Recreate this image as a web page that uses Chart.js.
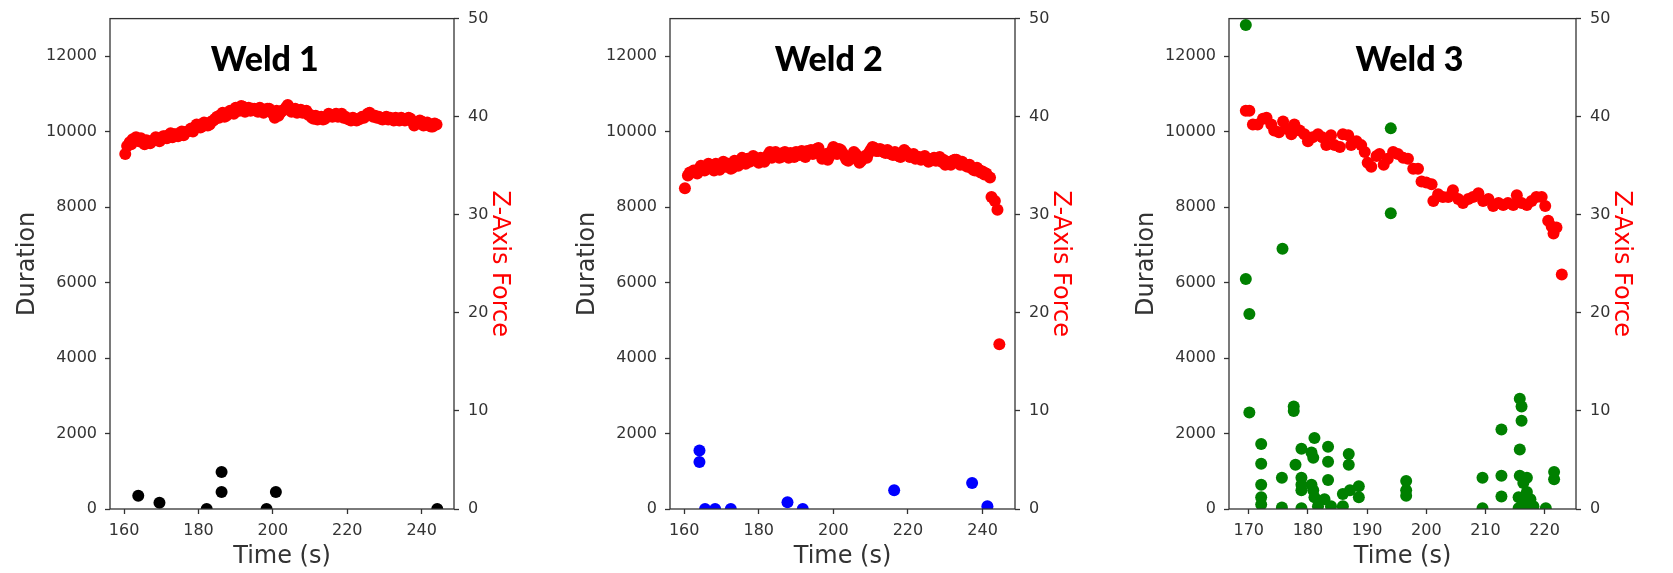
<!DOCTYPE html>
<html>
<head>
<meta charset="utf-8">
<title>Weld duration and Z-axis force</title>
<script src="https://cdn.jsdelivr.net/npm/chart.js@4.4.0/dist/chart.umd.min.js"></script>
<style>
  body { margin: 0; background: #fff; width: 1673px; height: 573px; position: relative; overflow: hidden; }
  .panel { position: absolute; top: 0; height: 573px; }
</style>
</head>
<body>
<div class="panel" style="left:0px;width:540px"><canvas id="weld1" width="540" height="573"></canvas></div>
<div class="panel" style="left:560px;width:541px"><canvas id="weld2" width="541" height="573"></canvas></div>
<div class="panel" style="left:1119px;width:543px"><canvas id="weld3" width="543" height="573"></canvas></div>
<script>
// Weld 1 -- force trace (right axis) and event durations (left axis)
const weld1ForceTime = [160.3, 160.8, 161.5, 162.3, 163.2, 164, 165, 166, 167, 168, 169, 170, 171, 172, 173, 174, 175, 176, 177, 178, 179, 180,
  181, 182, 183, 184, 185, 186, 187, 188, 189, 190, 191, 192, 193, 194, 195, 196, 197, 198, 199, 200, 200.5, 201, 202, 203, 204, 205, 206,
  207, 208, 209, 210, 211, 212, 213, 214, 215, 216, 217, 218, 219, 220, 221, 222, 223, 224, 225, 226, 227, 228, 229, 230, 231, 232, 233,
  234, 235, 236, 237, 238, 239, 240, 241, 242, 243, 244];
const weld1Force = [36.2, 37.0, 37.4, 37.7, 37.9, 37.5, 37.4, 37.6, 37.3, 37.6, 37.8, 37.7, 38.0, 38.1, 37.9, 38.2, 38.3, 38.1, 38.5, 38.8, 38.9, 39.1,
  39.0, 39.3, 39.2, 39.6, 40.0, 40.2, 40.0, 40.4, 40.5, 40.9, 40.6, 41.0, 40.7, 40.6, 40.8, 40.5, 40.7, 40.6, 40.8, 40.3, 39.9, 40.6, 40.4, 40.7, 41.2, 40.5, 40.8,
  40.6, 40.4, 40.6, 40.2, 39.8, 39.7, 40.0, 39.8, 40.3, 40.0, 40.3, 40.1, 39.9, 39.8, 39.6, 39.8, 39.7, 40.0, 40.1, 40.4, 40.0, 39.9, 39.8, 39.9, 39.7, 39.8, 39.9,
  39.6, 39.8, 39.7, 39.8, 39.1, 39.4, 39.5, 39.3, 39.1, 39.0, 39.2];
// in-between force samples
const weld1ForceTime2 = [161.9, 163.6, 164.5, 165.5, 166.5, 167.5, 168.5, 169.5, 170.5, 171.5, 172.5, 173.5, 174.5, 175.5, 176.5, 177.5,
  178.5, 179.5, 180.5, 181.5, 182.5, 183.5, 184.5, 185.5, 186.5, 187.5, 188.5, 189.5, 190.5, 191.5, 192.5, 193.5, 194.5, 195.5, 196.5,
  197.5, 198.5, 199.5, 201.5, 202.5, 203.5, 204.5, 205.5, 206.5, 207.5, 208.5, 209.5, 210.5, 211.5, 212.5, 213.5, 214.5, 215.5, 216.5,
  217.5, 218.5, 219.5, 220.5, 221.5, 222.5, 223.5, 224.5, 225.5, 226.5, 227.5, 228.5, 229.5, 230.5, 231.5, 232.5, 233.5, 234.5, 235.5,
  236.5, 237.5, 238.5, 239.5, 240.5, 241.5, 242.5, 243.5];
const weld1Force2 = [37.2, 37.6, 37.8, 37.2, 37.5, 37.5, 37.9, 37.5, 38.0, 37.8, 38.3, 38.2, 38.0, 38.5, 38.4, 38.6,
  38.5, 39.2, 38.9, 39.4, 39.1, 39.5, 39.8, 39.9, 40.4, 40.1, 40.6, 40.3, 40.7, 41.1, 40.5, 40.9, 40.8, 40.6, 40.9,
  40.4, 40.8, 40.5, 40.1, 40.6, 40.9, 40.8, 40.6, 40.4, 40.7, 40.5, 40.2, 39.9, 40.1, 39.9, 39.7, 40.0, 40.1, 40.2,
  40.0, 40.3, 40.0, 39.7, 39.9, 39.6, 39.8, 39.9, 40.3, 40.2, 40.1, 40.0, 39.7, 40.0, 39.9, 39.6, 39.7, 39.9, 39.6,
  39.9, 39.5, 39.3, 39.6, 39.1, 39.4, 39.0, 39.3];
const weld1EventTime = [163.8, 169.5, 182.2, 186.2, 186.2, 198.3, 200.8, 244.2];
const weld1Duration = [350, 165, 0, 980, 450, 0, 450, 0];

// Weld 2
const weld2ForceTime = [160.2, 161, 162, 163, 164, 165, 166, 167, 168, 169, 170, 171, 172, 173, 174, 175, 176, 177, 178, 179, 180, 181, 182,
  183, 184, 185, 186, 187, 188, 189, 190, 191, 192, 193, 194, 195, 196, 197, 198, 199, 200, 201, 202, 203, 204, 205, 206, 207, 208, 209,
  210, 211, 212, 213, 214, 215, 216, 217, 218, 219, 220, 221, 222, 223, 224, 225, 226, 227, 228, 229, 230, 231, 232, 233, 234, 235, 236,
  237, 238, 239, 240, 241, 242, 242.4, 243.3, 244, 244.5];
const weld2Force = [32.7, 34.0, 34.3, 34.4, 34.7, 34.7, 34.9, 35.1, 34.5, 34.9, 35.1, 34.9, 35.2, 34.8, 35.2, 35.5, 35.4, 35.7, 35.5, 35.8, 35.3, 35.6, 35.8,
  36.4, 36.0, 36.2, 35.9, 36.4, 35.8, 36.1, 36.4, 36.1, 36.2, 36.5, 36.6, 36.4, 36.8, 35.7, 36.2, 36.0, 36.9, 36.2, 36.6, 36.0, 35.5, 35.9, 36.2, 35.3, 35.8, 35.8,
  36.6, 36.8, 36.5, 36.6, 36.3, 36.4, 36.1, 36.2, 35.9, 36.6, 36.2, 36.0, 35.7, 35.9, 35.8, 35.6, 35.5, 35.8, 35.7, 35.4, 35.1, 35.3, 35.5, 35.6, 35.1, 35.2, 34.9,
  34.8, 34.5, 34.6, 34.4, 34.2, 33.8, 31.8, 31.4, 30.5, 16.8];
const weld2ForceTime2 = [161.5, 162.5, 163.5, 164.5, 165.5, 166.5, 167.5, 168.5, 169.5, 170.5, 171.5, 172.5, 173.5, 174.5, 175.5, 176.5,
  177.5, 178.5, 179.5, 180.5, 181.5, 182.5, 183.5, 184.5, 185.5, 186.5, 187.5, 188.5, 189.5, 190.5, 191.5, 192.5, 193.5, 194.5, 195.5,
  196.5, 197.5, 198.5, 199.5, 200.5, 201.5, 202.5, 203.5, 204.5, 205.5, 206.5, 207.5, 208.5, 209.5, 210.5, 211.5, 212.5, 213.5, 214.5,
  215.5, 216.5, 217.5, 218.5, 219.5, 220.5, 221.5, 222.5, 223.5, 224.5, 225.5, 226.5, 227.5, 228.5, 229.5, 230.5, 231.5, 232.5, 233.5,
  234.5, 235.5, 236.5, 237.5, 238.5, 239.5, 240.5];
const weld2Force2 = [34.3, 34.5, 34.2, 35.0, 34.5, 35.2, 34.8, 35.2, 34.6, 35.4, 35.2, 34.7, 35.5, 35.0, 35.8, 35.2,
  35.4, 36.0, 35.5, 35.8, 35.4, 36.1, 35.8, 36.4, 35.8, 36.3, 36.0, 36.3, 35.9, 36.3, 36.5, 35.9, 36.3, 36.2, 36.7,
  36.2, 35.9, 35.6, 36.5, 36.5, 36.7, 36.3, 35.6, 35.9, 36.4, 35.6, 35.5, 36.0, 36.3, 36.9, 36.5, 36.7, 36.4, 36.6,
  36.2, 36.4, 36.0, 36.3, 36.4, 35.9, 36.2, 35.9, 35.6, 36.0, 35.4, 35.7, 35.5, 35.9, 35.6, 35.4, 35.1, 35.6, 35.3,
  35.4, 35.0, 35.1, 34.6, 34.8, 34.3, 34.1];
const weld2EventTime = [164.1, 164.1, 165.6, 168.3, 172.5, 187.7, 191.8, 216.3, 237.2, 241.3];
const weld2Duration = [1550, 1245, 0, 0, 0, 180, 0, 500, 690, 70];

// Weld 3
const weld3ForceTime = [169.5, 170.1, 170.7, 171.5, 172.4, 173, 173.8, 174.3, 175.1, 175.8, 176.3, 177.2, 177.7, 178.6, 179.4, 180, 180.8,
  181.7, 182.4, 183.1, 183.9, 184.5, 185.4, 185.9, 186.8, 187.3, 188.2, 189, 189.6, 190.1, 190.7, 191.6, 192.1, 192.8, 193.5, 194.4, 195.2,
  196.1, 196.9, 197.8, 198.6, 199.2, 200, 200.9, 201.2, 202, 202.8, 203.7, 204.5, 205.4, 206.2, 207.1, 207.9, 208.8, 209.6, 210.5, 211.3,
  212.2, 213, 213.8, 214.7, 215.3, 216.1, 217, 217.8, 218.6, 219.5, 220.1, 220.6, 221.2, 221.5, 222, 222.9];
const weld3Force = [40.6, 40.6, 39.2, 39.2, 39.8, 39.9, 39.2, 38.6, 38.4, 39.5, 38.8, 38.2, 39.2, 38.6, 38.2, 37.5, 37.9,
  38.2, 37.9, 37.1, 38.1, 37.1, 36.9, 38.2, 38.1, 37.1, 37.5, 37.1, 36.4, 35.3, 34.9, 36.0, 36.2, 35.1, 35.7, 36.4, 36.2,
  35.8, 35.7, 34.7, 34.7, 33.4, 33.3, 33.1, 31.4, 32.1, 31.8, 31.8, 32.5, 31.6, 31.2, 31.6, 31.8, 32.2, 31.4, 31.6, 30.9,
  31.2, 31.0, 31.2, 31.0, 32.0, 31.2, 31.0, 31.4, 31.8, 31.8, 30.9, 29.4, 28.8, 28.1, 28.7, 23.9];
const weld3EventTime = [169.5, 169.5, 170.1, 170.1, 172.1, 172.1, 172.1, 172.1, 172.1, 175.7, 175.6, 175.6, 177.6, 177.6, 177.9,
  178.9, 178.9, 178.9, 178.9, 178.9, 180.6, 180.9, 181.1, 180.6, 180.9, 181.1, 181.7, 183.4, 183.4, 183.4, 182.8, 183.9,
  185.9, 186.9, 186.9, 187.1, 185.9, 188.6, 188.6, 194.0, 194.0, 196.6, 196.6, 196.6, 209.5, 209.5, 212.7, 212.7, 212.7,
  215.8, 216.1, 216.1, 215.8, 215.8, 216.4, 217.0, 215.6, 216.1, 217.0, 217.6, 216.7, 218.1, 215.6, 217.3, 220.2, 221.6, 221.6];
const weld3Duration = [12830, 6100, 5170, 2560, 1720, 1200, 640, 310, 120, 6900, 830, 40, 2720, 2600, 1170,
  1600, 830, 640, 500, 20, 1500, 1360, 1880, 640, 500, 310, 70, 1650, 1250, 770, 260, 70,
  400, 1460, 1170, 500, 70, 600, 310, 10090, 7840, 740, 500, 350, 830, 20, 2110, 880, 330,
  2920, 2720, 2340, 1580, 880, 690, 830, 310, 70, 450, 260, 210, 70, 20, 20, 20, 980, 790];

const timeTicksWide = [160, 180, 200, 220, 240];
const timeTicksNarrow = [170, 180, 190, 200, 210, 220];
const durationTicks = [0, 2000, 4000, 6000, 8000, 10000, 12000];
const forceTicks = [0, 10, 20, 30, 40, 50];

const FONT = 'DejaVu Sans';
const INK = '#333333';
const DOT = 6;

// box around the plot area plus the bold panel heading
const weldFrame = {
  id: 'weldFrame',
  afterDatasetsDraw(chart, args, opts) {
    const { ctx, chartArea: a } = chart;
    ctx.save();
    ctx.strokeStyle = INK;
    ctx.lineWidth = 1.3;
    ctx.strokeRect(a.left, a.top, a.right - a.left, a.bottom - a.top);
    ctx.font = '900 34px Lato';
    ctx.fillStyle = '#000';
    ctx.textAlign = 'center';
    ctx.textBaseline = 'alphabetic';
    ctx.fillText(opts.text, a.left + (a.right - a.left) * opts.xFrac, a.top + 52);
    ctx.restore();
  }
};

function toPoints(xs, ys) {
  return xs.map((x, i) => ({ x: x, y: ys[i] }));
}

function fixedTicks(values) {
  return scale => { scale.ticks = values.map(v => ({ value: v })); };
}

function tickGrid() {
  return { display: true, drawOnChartArea: false, drawTicks: true, tickLength: 5, tickColor: INK, tickWidth: 1.3 };
}

const plainLabel = value => String(value);

function makeWeldChart(id, opts) {
  const ctx = document.getElementById(id).getContext('2d');
  const forcePoints = [];
  opts.force.forEach(([ts, fs]) => forcePoints.push(...toPoints(ts, fs)));

  return new Chart(ctx, {
    type: 'scatter',
    data: {
      datasets: [
        {
          data: forcePoints,
          yAxisID: 'y2',
          backgroundColor: '#ff0000',
          pointRadius: DOT,
          pointBorderWidth: 0,
          order: 0,
          clip: 0
        },
        {
          data: toPoints(opts.eventTime, opts.duration),
          yAxisID: 'y',
          backgroundColor: opts.color,
          pointRadius: DOT,
          pointBorderWidth: 0,
          order: 1,
          clip: 0
        }
      ]
    },
    options: {
      responsive: false,
      animation: false,
      layout: { padding: { top: 12, bottom: 0, left: 0, right: 0 } },
      plugins: {
        legend: { display: false },
        tooltip: { enabled: false },
        weldFrame: { text: opts.title, xFrac: opts.titleFrac }
      },
      scales: {
        x: {
          type: 'linear',
          min: opts.xMin,
          max: opts.xMax,
          afterBuildTicks: fixedTicks(opts.xTicks),
          afterFit: s => { s.height = 64; },
          border: { display: false },
          grid: tickGrid(),
          ticks: { color: INK, font: { family: FONT, size: 16 }, padding: 7, maxRotation: 0, autoSkip: false, callback: plainLabel },
          title: { display: true, text: 'Time (s)', color: INK, font: { family: FONT, size: 24 }, padding: { top: 0, bottom: 2 } }
        },
        y: {
          position: 'left',
          min: 0,
          max: 13000,
          afterBuildTicks: fixedTicks(durationTicks),
          afterFit: s => { s.width = 110; },
          border: { display: false },
          grid: tickGrid(),
          ticks: { color: INK, font: { family: FONT, size: 16 }, padding: 8, callback: plainLabel },
          title: { display: true, text: 'Duration', color: INK, font: { family: FONT, size: 24 }, padding: { top: 13, bottom: 0 } }
        },
        y2: {
          position: 'right',
          min: 0,
          max: 50,
          afterBuildTicks: fixedTicks(forceTicks),
          afterFit: s => { s.width = 86; },
          border: { display: false },
          grid: tickGrid(),
          ticks: { color: INK, font: { family: FONT, size: 16 }, padding: 9, callback: plainLabel },
          title: { display: true, text: 'Z-Axis Force', color: '#ff0000', font: { family: FONT, size: 24 }, padding: { top: 26, bottom: 0 } }
        }
      }
    },
    plugins: [weldFrame]
  });
}

makeWeldChart('weld1', {
  title: 'Weld 1', titleFrac: 0.45, color: '#000000',
  force: [[weld1ForceTime, weld1Force], [weld1ForceTime2, weld1Force2]],
  eventTime: weld1EventTime, duration: weld1Duration,
  xMin: 156.2, xMax: 248.7, xTicks: timeTicksWide
});
makeWeldChart('weld2', {
  title: 'Weld 2', titleFrac: 0.46, color: '#0000ff',
  force: [[weld2ForceTime, weld2Force], [weld2ForceTime2, weld2Force2]],
  eventTime: weld2EventTime, duration: weld2Duration,
  xMin: 156.2, xMax: 248.7, xTicks: timeTicksWide
});
makeWeldChart('weld3', {
  title: 'Weld 3', titleFrac: 0.52, color: '#008000',
  force: [[weld3ForceTime, weld3Force]],
  eventTime: weld3EventTime, duration: weld3Duration,
  xMin: 166.66, xMax: 225.3, xTicks: timeTicksNarrow
});
</script>
</body>
</html>
